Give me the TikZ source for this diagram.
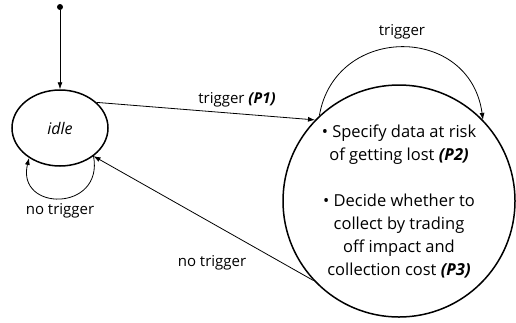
\documentclass[tikz,border=0pt]{standalone}
\usepackage{fontspec}
\setmainfont{Open Sans}
\usetikzlibrary{arrows.meta,shapes.geometric}
\begin{document}
\begin{tikzpicture}[x=1pt,y=-1pt,
  state/.style={draw,line width=1.5pt,inner sep=0pt},
  conn/.style={line width=0.8pt,-{Latex[length=7pt,width=5pt]}},
  lbl/.style={font=\fontsize{15}{17}\selectfont,inner sep=0pt}]
\useasboundingbox (0,0) rectangle (516,322);
\node[circle,fill,minimum size=6pt,inner sep=0pt] (init) at (60,7) {};
\node[state,ellipse,minimum width=96pt,minimum height=76pt,font=\fontsize{16}{18}\selectfont\itshape] (idle) at (60,128) {idle};
\node[state,circle,minimum size=232pt,align=center,font=\fontsize{16.5}{23}\selectfont] (big) at (399,201) {%
\textbullet\ Specify data at risk\\ of getting lost \textbf{\textit{(P2)}}\\[23pt]
\textbullet\ Decide whether to\\ collect by trading\\ off impact and\\ collection cost \textbf{\textit{(P3)}}};
\draw[conn] (init) -- (idle);
\draw[conn] (idle.35) -- (big.136);
\draw[conn] (big.133) .. controls (335,24) and (470,24) .. (big.44);
\draw[conn] (idle.-40) .. controls (104,212) and (16,212) .. (idle.-136);
\draw[conn] (big.223) -- (idle.-40);
\node[lbl] (l1) at (237,100) {trigger \textbf{\textit{(P1)}}};
\node[lbl] (l2) at (402,32) {trigger};
\node[lbl] (l3) at (60,211) {no trigger};
\node[lbl] (l4) at (212,263) {no trigger};
\end{tikzpicture}
\end{document}
